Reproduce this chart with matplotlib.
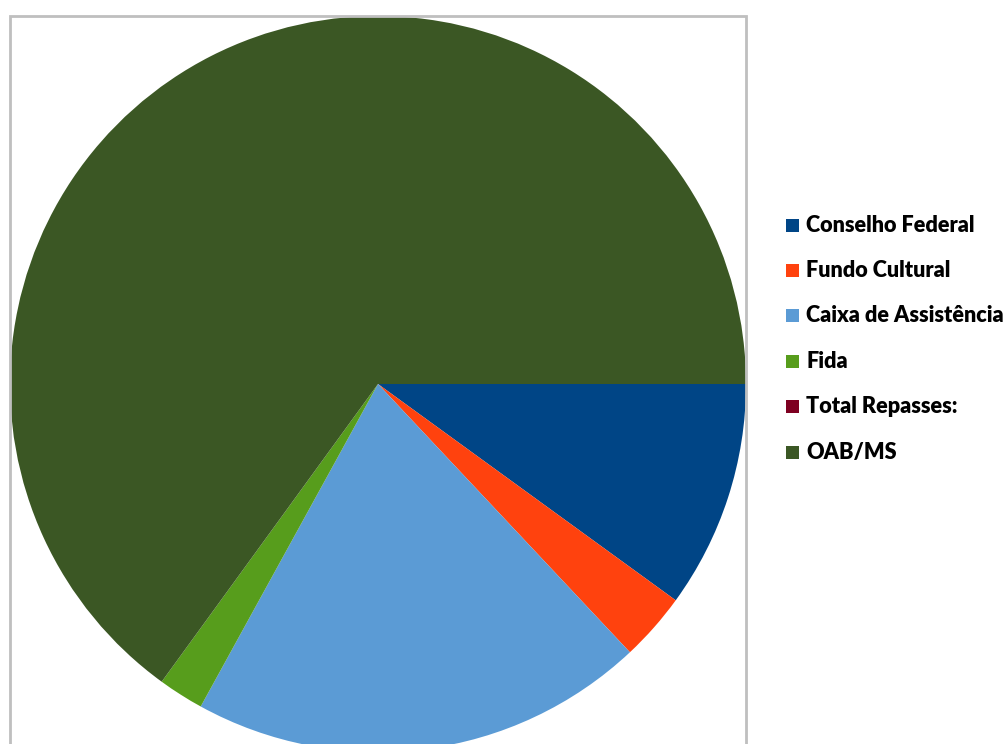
import matplotlib.pyplot as plt
from matplotlib.patches import Rectangle

# ----------------- data -----------------
categories = ["Conselho Federal", "Fundo Cultural", "Caixa de Assistência",
              "Fida", "Total Repasses:", "OAB/MS"]
shares = [10, 3, 20, 2, 0, 65]
colors = ["#004586", "#FF420E", "#5B9BD5", "#579D1C", "#7E0021", "#3B5724"]
# ----------------------------------------

W, H = 1008, 744
fig = plt.figure(figsize=(W / 100, H / 100), dpi=100)
ax = fig.add_axes([0, 0, 1, 1])

# pie in pixel coordinates (y up)
cx, cy, r = 378, H - 384, 368
ax.pie(shares, colors=colors, startangle=0, counterclock=False,
       center=(cx, cy), radius=r, wedgeprops=dict(linewidth=0))
ax.set_xlim(0, W)
ax.set_ylim(0, H)
ax.set_aspect("equal")
ax.set_axis_off()

# plot area border
bx0, bx1, by = 10, 746, H - 16
ax.plot([bx0, bx0, bx1, bx1], [-5, by, by, -5], color="#BFBFBF", lw=2,
        solid_joinstyle="miter", zorder=5, clip_on=False)

# legend, drawn by hand
y0, step = H - 225, 45.4
for i, (lab, col) in enumerate(zip(categories, colors)):
    y = y0 - i * step
    ax.add_patch(Rectangle((786, y - 6.5), 13, 13, facecolor=col, edgecolor="none"))
    ax.text(806, y, lab, fontsize=15.6, fontweight="heavy", family="Lato",
            va="center", ha="left", color="black")

fig.savefig("out.png", dpi=100)
